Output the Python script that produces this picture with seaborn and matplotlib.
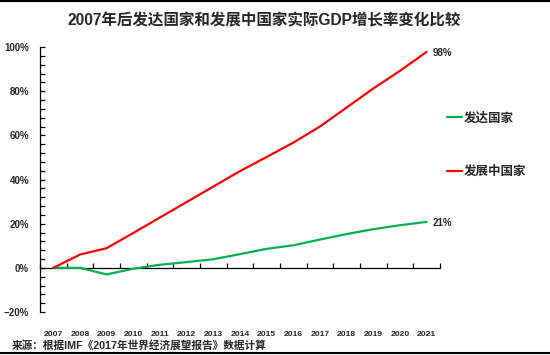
import numpy as np
import pandas as pd
import matplotlib
matplotlib.use("Agg")
import matplotlib.pyplot as plt
from matplotlib.lines import Line2D
from matplotlib.ticker import MultipleLocator, PercentFormatter
import seaborn as sns

years = list(range(2007, 2022))
developed = [0.0, 0.0, -3.0, -0.4, 1.4, 2.6, 3.9, 6.2, 8.6, 10.2, 12.8, 15.3, 17.5, 19.3, 20.8]
developing = [0.0, 6.0, 8.9, 15.8, 22.8, 29.8, 36.8, 43.8, 50.2, 56.7, 64.0, 72.6, 81.2, 89.2, 97.8]
series_names = ["发达国家", "发展中国家"]
colors = ["#00B050", "#FF0000"]
title = "2007年后发达国家和发展中国家实际GDP增长率变化比较"
source = "来源：根据IMF《2017年世界经济展望报告》数据计算"

df = pd.DataFrame({
    "year": years * 2,
    "value": developed + developing,
    "series": [series_names[0]] * len(years) + [series_names[1]] * len(years),
})

sns.set_style("white")
fam = ["Liberation Sans", "Noto Sans CJK SC", "DejaVu Sans"]
plt.rcParams["font.family"] = fam
plt.rcParams["font.weight"] = "bold"

fig = plt.figure(figsize=(5.5, 3.55), dpi=100)
ax = fig.add_axes([40 / 550, 1 - 312 / 355, 400 / 550, 265 / 355])

sns.lineplot(data=df, x="year", y="value", hue="series", palette=colors,
             hue_order=series_names, linewidth=1.6, ax=ax, legend=False, sort=False)

ax.set_xlim(2006.5, 2021.5)
ax.set_ylim(-20, 100)
ax.set_xlabel("")
ax.set_ylabel("")

# y axis
ax.yaxis.set_major_locator(MultipleLocator(20))
ax.yaxis.set_minor_locator(MultipleLocator(4))
ax.yaxis.set_major_formatter(PercentFormatter(decimals=0))
ax.tick_params(axis="y", which="both", left=True, direction="in", length=3.5, width=0.9,
               color="black", labelsize=7, pad=8)
for lab in ax.get_yticklabels():
    lab.set_fontweight("bold")

# x labels at bottom (low position)
ax.set_xticks(years)
ax.set_xticklabels([str(y) for y in years], fontsize=6.1, fontweight="bold")
ax.tick_params(axis="x", which="both", bottom=False, length=0, pad=14)

for s in ["top", "right", "bottom"]:
    ax.spines[s].set_visible(False)
ax.spines["left"].set_color("black")
ax.spines["left"].set_linewidth(0.9)

# horizontal axis line at 0 with category-boundary ticks
sec = ax.secondary_xaxis(20 / 120)
sec.set_xticks(np.arange(2006.5, 2022, 1))
sec.tick_params(axis="x", bottom=True, direction="in", length=3.5, width=0.9, color="black",
                labelbottom=False, labeltop=False)
sec.spines["bottom"].set_color("black")
sec.spines["bottom"].set_linewidth(0.9)

# end labels
ax.annotate(f"{developing[-1]:.0f}%", (years[-1], developing[-1]), xytext=(4, -1),
            textcoords="offset points", fontsize=7, fontweight="bold", va="center")
ax.annotate(f"{developed[-1]:.0f}%", (years[-1], developed[-1]), xytext=(4, -1),
            textcoords="offset points", fontsize=7, fontweight="bold", va="center")

# legend
handles = [Line2D([], [], color=c, linewidth=1.6) for c in colors]
leg = fig.legend(handles, series_names, loc="upper left",
                 bbox_to_anchor=(436 / 550, 1 - 101 / 355), frameon=False,
                 handlelength=1.2, handletextpad=0.15, labelspacing=3.3,
                 prop={"family": fam, "weight": "bold", "size": 9})

fig.text(264 / 550, 1 - 21 / 355, title, ha="center", va="center",
         fontsize=11.2, fontweight="bold")
fig.text(12 / 550, 1 - 345 / 355, source, ha="left", va="center",
         fontsize=7.7, fontweight="bold")

# frame lines top and bottom
fig.add_artist(Line2D([0, 1], [1 - 0.8 / 355, 1 - 0.8 / 355], color="black", linewidth=1.5,
                      transform=fig.transFigure))
fig.add_artist(Line2D([0, 1], [1 - 353 / 355, 1 - 353 / 355], color="black", linewidth=1.5,
                      transform=fig.transFigure))

fig.savefig("out.png", dpi=100, facecolor="white")
